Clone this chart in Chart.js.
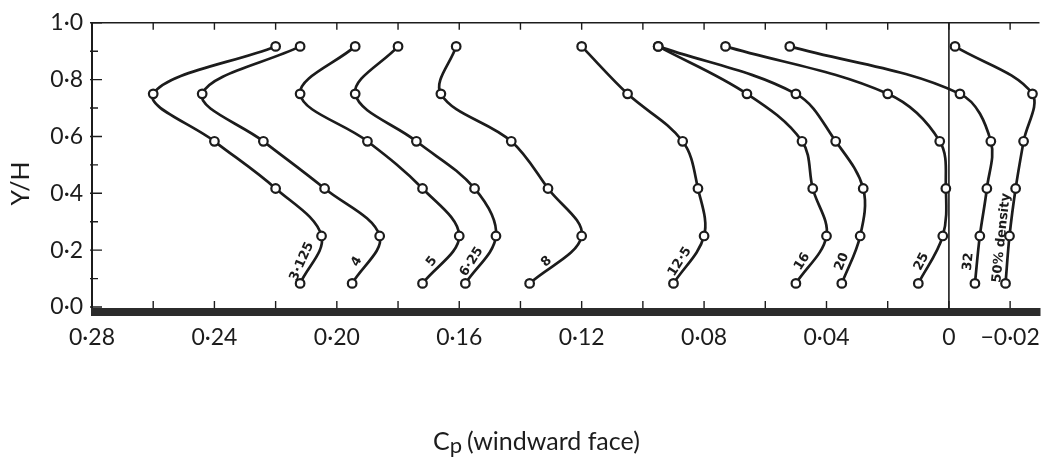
<!DOCTYPE html>
<html>
<head>
<meta charset="utf-8">
<script src="https://cdn.jsdelivr.net/npm/chart.js@4.4.1/dist/chart.umd.min.js"></script>
<style>
  html, body { margin: 0; padding: 0; background: #fff; }
  #wrap { width: 1046px; height: 462px; position: relative; }
</style>
</head>
<body>
<div id="wrap"><canvas id="cpChart"></canvas></div>
<script>
// Y/H levels of the tapping points, top to bottom
var heightLevels = [0.917, 0.75, 0.583, 0.417, 0.25, 0.083];

// Cp on the windward face for each density, same order as heightLevels
var cp_3125 = [0.220, 0.260, 0.240, 0.220, 0.205, 0.212];
var cp_4    = [0.212, 0.244, 0.224, 0.204, 0.186, 0.195];
var cp_5    = [0.194, 0.212, 0.190, 0.172, 0.160, 0.172];
var cp_625  = [0.180, 0.194, 0.174, 0.155, 0.148, 0.158];
var cp_8    = [0.161, 0.166, 0.143, 0.131, 0.120, 0.137];
var cp_125  = [0.120, 0.105, 0.087, 0.082, 0.080, 0.090];
var cp_16   = [0.095, 0.066, 0.048, 0.0445, 0.040, 0.050];
var cp_20   = [0.095, 0.050, 0.037, 0.028, 0.029, 0.035];
var cp_25   = [0.073, 0.020, 0.003, 0.001, 0.002, 0.010];
var cp_32   = [0.052, -0.0036, -0.0137, -0.0124, -0.0101, -0.0085];
var cp_50   = [-0.002, -0.0273, -0.0244, -0.0218, -0.0198, -0.0185];

var densityNames = ['3·125', '4', '5', '6·25', '8', '12·5', '16', '20', '25', '32', '50% density'];
var densitySeries = [cp_3125, cp_4, cp_5, cp_625, cp_8, cp_125, cp_16, cp_20, cp_25, cp_32, cp_50];

var xTickValues = [0.28, 0.26, 0.24, 0.22, 0.20, 0.18, 0.16, 0.14, 0.12, 0.10, 0.08, 0.06, 0.04, 0.02, 0, -0.02];
var xTickLabels = ['0·28', '', '0·24', '', '0·20', '', '0·16', '', '0·12', '', '0·08', '', '0·04', '', '0', '−0·02'];
var yTickValues = [0, 0.1, 0.2, 0.3, 0.4, 0.5, 0.6, 0.7, 0.8, 0.9, 1.0];
var yTickLabels = ['0·0', '', '0·2', '', '0·4', '', '0·6', '', '0·8', '', '1·0'];

var ink = '#1c1c1c';

function makeSeries(name, values) {
  return {
    label: name,
    data: values.map(function (v, i) { return { x: v, y: heightLevels[i] }; }),
    borderColor: ink,
    borderWidth: 2.7,
    tension: 0.36,
    fill: false,
    pointRadius: 4.3,
    pointBorderWidth: 2.2,
    pointBorderColor: ink,
    pointBackgroundColor: '#fff'
  };
}

// axis frame: top rule, heavy base band, inward ticks and the Cp = 0 line
var framePlugin = {
  id: 'frame',
  beforeDatasetsDraw: function (chart) {
    var ctx = chart.ctx, a = chart.chartArea;
    var xs = chart.scales.x, ys = chart.scales.y;
    ctx.save();
    ctx.strokeStyle = ink;
    ctx.fillStyle = '#2b2b2b';
    ctx.fillRect(a.left - 1, a.bottom + 1, a.right - a.left + 2, 8);

    ctx.lineWidth = 1.6;
    ctx.beginPath();
    ctx.moveTo(a.left, a.top);
    ctx.lineTo(a.right, a.top);
    var x0 = xs.getPixelForValue(0);
    ctx.moveTo(x0, a.top);
    ctx.lineTo(x0, a.bottom + 2);
    ctx.stroke();

    ctx.lineWidth = 1.4;
    ctx.beginPath();
    xTickValues.forEach(function (v) {
      var px = xs.getPixelForValue(v);
      ctx.moveTo(px, a.bottom + 1);
      ctx.lineTo(px, a.bottom - 6);
      ctx.moveTo(px, a.top);
      ctx.lineTo(px, a.top + 7);
    });
    yTickValues.forEach(function (v, i) {
      var py = ys.getPixelForValue(v);
      var len = yTickLabels[i] ? 10 : 6;
      ctx.moveTo(a.left - 2, py);
      ctx.lineTo(a.left + len, py);
    });
    ctx.stroke();
    ctx.restore();
  },
  afterDatasetsDraw: function (chart) {
    // density names written along the lowest stretch of each curve
    var ctx = chart.ctx;
    ctx.save();
    ctx.fillStyle = ink;
    ctx.font = 'bold 13px "DejaVu Sans"';
    ctx.textAlign = 'center';
    ctx.textBaseline = 'middle';
    chart.data.datasets.forEach(function (ds, i) {
      var pts = chart.getDatasetMeta(i).data;
      var from = (i === chart.data.datasets.length - 1) ? 3 : 4;
      var p = pts[from], q = pts[5];
      var ang = Math.atan2(p.y - q.y, p.x - q.x);
      ctx.save();
      ctx.translate((p.x + q.x) / 2 - 9, (p.y + q.y) / 2 + 2);
      ctx.rotate(ang);
      ctx.fillText(ds.label, 0, 0);
      ctx.restore();
    });
    ctx.restore();
  },
  afterDraw: function (chart) {
    var ctx = chart.ctx, a = chart.chartArea;
    ctx.save();
    ctx.fillStyle = ink;
    ctx.textBaseline = 'alphabetic';

    // x title with subscript p
    var big = '25px Lato', small = '22px Lato';
    ctx.font = big;
    var wC = ctx.measureText('C').width;
    var rest = '(windward face)';
    var wR = ctx.measureText(rest).width;
    ctx.font = small;
    var wp = ctx.measureText('p').width;
    var total = wC + wp + 5 + wR;
    var cx = a.left + (a.right - a.left) * 0.469;
    var x = cx - total / 2, base = 450;
    ctx.font = big;
    ctx.fillText('C', x, base);
    ctx.font = small;
    ctx.fillText('p', x + wC, base + 3);
    ctx.font = big;
    ctx.fillText(rest, x + wC + wp + 5, base);

    // y title
    ctx.font = '25px Lato';
    ctx.textAlign = 'center';
    ctx.textBaseline = 'middle';
    ctx.translate(21, a.top + (a.bottom - a.top) * 0.565);
    ctx.rotate(-Math.PI / 2);
    ctx.fillText('Y/H', 0, 0);
    ctx.restore();
  }
};

var ctx = document.getElementById('cpChart').getContext('2d');
var cpChart = new Chart(ctx, {
  type: 'line',
  data: { datasets: densitySeries.map(function (s, i) { return makeSeries(densityNames[i], s); }) },
  options: {
    responsive: true,
    maintainAspectRatio: false,
    animation: false,
    layout: { padding: { top: 15, right: 3, left: 0, bottom: 0 } },
    plugins: { legend: { display: false }, tooltip: { enabled: false } },
    scales: {
      x: {
        type: 'linear',
        reverse: true,
        min: -0.0296,
        max: 0.28,
        grid: { display: false, drawTicks: false },
        border: { display: false },
        afterBuildTicks: function (scale) {
          scale.ticks = xTickValues.map(function (v) { return { value: v }; });
        },
        afterFit: function (scale) {
          scale.height = 155;
          scale.paddingLeft = 0;
          scale.paddingRight = 0;
        },
        ticks: {
          autoSkip: false,
          maxRotation: 0,
          minRotation: 0,
          padding: 17,
          color: ink,
          font: { family: 'Lato', size: 23 },
          callback: function (value, index) { return xTickLabels[index]; }
        }
      },
      y: {
        type: 'linear',
        min: 0,
        max: 1,
        grid: { display: false, drawTicks: false },
        border: { display: true, color: ink, width: 2 },
        afterBuildTicks: function (scale) {
          scale.ticks = yTickValues.map(function (v) { return { value: v }; });
        },
        afterFit: function (scale) {
          scale.width = 92;
        },
        ticks: {
          autoSkip: false,
          padding: 9,
          color: ink,
          font: { family: 'Lato', size: 23 },
          callback: function (value, index) { return yTickLabels[index]; }
        }
      }
    }
  },
  plugins: [framePlugin]
});
</script>
</body>
</html>
